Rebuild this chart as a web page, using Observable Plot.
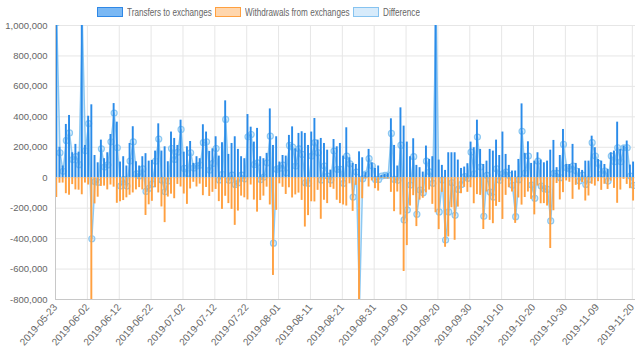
<!DOCTYPE html>
<html><head><meta charset="utf-8">
<script src="https://cdn.jsdelivr.net/npm/d3@7"></script>
<script src="https://cdn.jsdelivr.net/npm/@observablehq/plot@0.6"></script>
<style>
body{margin:0;background:#fff;font-family:"Liberation Sans",Arial,sans-serif;}
#legend{position:relative;height:20px;width:640px;}
.item{position:absolute;top:2px;height:20px;display:flex;align-items:center;font-size:11px;color:#666;white-space:nowrap;}
.sw{width:24px;height:8px;margin-right:4px;border:1px solid;flex:none;}
.tx{display:inline-block;transform:scaleX(0.74);transform-origin:left center;}
</style></head><body>
<div id="legend"></div><div id="chart"></div>
<script>
const startDate = "2019-05-23";
const endDate = "2019-11-21";
const seriesNames = ["Transfers to exchanges", "Withdrawals from exchanges", "Difference"];
// thousands, one per day from startDate
const transfers = [
1150,200,77,350,409,164,219,168,1150,212,
404,479,146,98,247,125,164,284,487,365,
103,138,77,225,335,105,77,138,158,109,
114,175,354,175,203,105,300,258,212,378,
168,203,238,94,138,125,348,300,173,190,
269,142,230,505,153,225,269,186,138,125,
415,332,234,324,138,125,160,452,212,269,
103,146,142,278,334,190,291,302,291,212,
300,389,247,258,225,181,50,251,203,225,
142,328,131,94,87,170,131,33,186,98,
61,77,15,22,26,387,212,77,459,339,
234,138,256,81,66,37,208,120,138,1350,
116,81,48,164,164,164,116,61,70,92,
234,197,378,186,87,109,186,175,247,146,
300,153,81,44,44,120,485,160,236,94,
109,164,116,98,109,181,245,66,146,317,
87,87,219,94,59,48,109,109,273,197,
120,109,87,55,164,175,365,186,208,241,
83,103];
const withdrawals = [
-130,-36,-35,-105,-115,-45,-80,-82,-112,-35,
-48,-880,-172,-128,-57,-55,-80,-48,-62,-168,
-158,-150,-132,-115,-100,-80,-65,-80,-248,-178,
-155,-66,-100,-192,-295,-127,-108,-138,-44,-61,
-107,-175,-74,-30,-61,-42,-118,-64,-123,-96,
-77,-157,-208,-122,-170,-208,-313,-219,-121,-132,
-146,-48,-147,-226,-150,-121,-62,-179,-642,-214,
-40,-63,-110,-66,-133,-113,-101,-149,-324,-249,
-158,-159,-83,-273,-148,-170,-65,-76,-148,-170,
-179,-186,-40,-221,-50,-1000,-138,-10,-61,-21,
-72,-88,-4,-7,-9,-96,-223,-94,-245,-616,
-446,-186,-118,-321,-147,-135,-99,-81,-175,-230,
-341,-96,-457,-389,-197,-411,-193,-105,-63,-96,
-66,-171,-111,-116,-340,-94,-280,-302,-188,-163,
-274,-116,-66,-94,-300,-133,-180,-130,-94,-142,
-244,-55,-171,-170,-186,-465,-217,-38,-146,-98,
-21,-30,-142,-50,-81,-31,-153,-120,-43,-55,
-26,-83,-43,-77,-22,-70,-168,-81,-11,-44,
-72,-153];
const tickLabels = ["2019-05-23","2019-06-02","2019-06-12","2019-06-22","2019-07-02","2019-07-12","2019-07-22","2019-08-01","2019-08-11","2019-08-21","2019-08-31","2019-09-10","2019-09-20","2019-09-30","2019-10-10","2019-10-20","2019-10-30","2019-11-09","2019-11-20"];
const yTicks = [-800000,-600000,-400000,-200000,0,200000,400000,600000,800000,1000000];

const colors = {to:"#2a8be9", toLegend:"#7ab8f4", toBorder:"#2f88e6", from:"#ffa040", fromLegend:"#ffd6ad", fromBorder:"#ffa040", diffLine:"#8cc8f2", diffFill:"#36a2eb", diffLegend:"#d7ebfb", diffBorder:"#86c3f0"};

// legend
const legendPos = [97, 215, 353];
const legendFill = [colors.toLegend, colors.fromLegend, colors.diffLegend];
const legendBorder = [colors.toBorder, colors.fromBorder, colors.diffBorder];
const lg = document.getElementById("legend");
seriesNames.forEach((n,i)=>{
  const it = document.createElement("div"); it.className="item"; it.style.left=legendPos[i]+"px";
  const sw = document.createElement("span"); sw.className="sw"; sw.style.background=legendFill[i]; sw.style.borderColor=legendBorder[i];
  const tx = document.createElement("span"); tx.className="tx"; tx.textContent = n;
  it.appendChild(sw); it.appendChild(tx); lg.appendChild(it);
});

const parse = d3.utcParse("%Y-%m-%d");
const start = parse(startDate), end = parse(endDate);
const DAY = 864e5;
const data = transfers.map((t,i)=>{
  const date = d3.utcDay.offset(start, i);
  return {date, to: t*1000, from: withdrawals[i]*1000, diff: (t + withdrawals[i])*1000};
});
const xc = d => new Date(+d.date + 0.4*DAY);
const x1 = d => new Date(+d.date + 0.1*DAY);
const x2 = d => new Date(+d.date + 0.7*DAY);
const ticks = tickLabels.map(parse);

const chart = Plot.plot({
  width: 640, height: 341,
  marginTop: 5, marginBottom: 62, marginLeft: 55, marginRight: 5,
  style: {fontFamily: '"Liberation Sans", Arial, sans-serif', fontSize: "10px", color: "#666", background: "#fff"},
  x: {type: "utc", domain: [start, end]},
  y: {domain: [-800000, 1000000]},
  marks: [
    Plot.ruleY(yTicks, {stroke: "#e6e6e6"}),
    Plot.ruleX(ticks, {stroke: "#e6e6e6"}),
    Plot.areaY(data, {x: xc, y: "diff", fill: colors.diffFill, fillOpacity: 0.15, clip: true}),
    Plot.lineY(data, {x: xc, y: "diff", stroke: colors.diffLine, strokeWidth: 1.5, clip: true}),
    Plot.dot(data, {x: xc, y: "diff", r: 3, stroke: colors.diffLine, strokeWidth: 1.2, fill: colors.diffFill, fillOpacity: 0.2, clip: true}),
    Plot.rectY(data, {x1, x2, y: "to", fill: colors.to, clip: true}),
    Plot.rectY(data, {x1, x2, y: "from", fill: colors.from, clip: true}),
    Plot.ruleX([start], {stroke: "#c8c8c8"}),
    Plot.ruleY([-800000], {stroke: "#c8c8c8"}),
    Plot.axisY(yTicks, {tickFormat: v => v.toLocaleString("en-US"), tickSize: 0, tickPadding: 8, fontSize: 9.5, label: null}),
    Plot.axisX(ticks, {tickFormat: d3.utcFormat("%Y-%m-%d"), tickRotate: -49, tickSize: 0, tickPadding: 6, fontSize: 10, label: null})
  ]
});
document.getElementById("chart").appendChild(chart);
</script>
</body></html>
